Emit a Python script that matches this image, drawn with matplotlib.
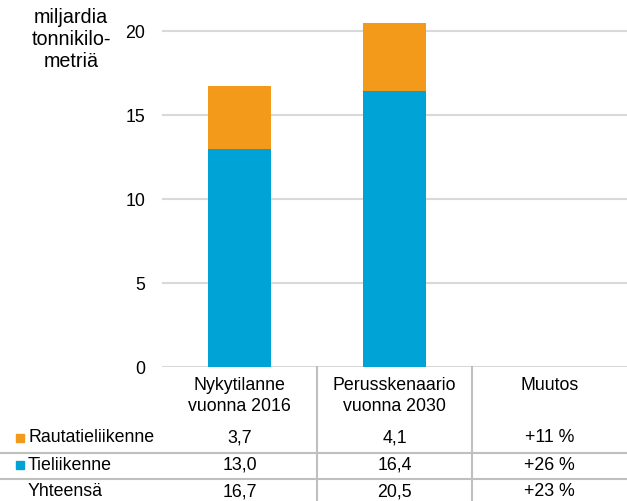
import matplotlib
matplotlib.use("Agg")
import matplotlib.pyplot as plt
from matplotlib.transforms import blended_transform_factory
from matplotlib.lines import Line2D

# Data
categories = ["Nykytilanne\nvuonna 2016", "Perusskenaario\nvuonna 2030", "Muutos"]
road = [13.0, 16.4]        # Tieliikenne
rail = [3.7, 4.1]          # Rautatieliikenne
change_rail = "+11 %"
change_road = "+26 %"
change_total = "+23 %"
yticks = [0, 5, 10, 15, 20]

orange = "#F39A1A"
blue = "#00A3D6"
grid_col = "#D9D9D9"
line_col = "#BFBFBF"
fs = 12.8

plt.rcParams['font.family'] = ['Liberation Sans', 'DejaVu Sans']
W, H = 627, 501
fig = plt.figure(figsize=(W / 100, H / 100), dpi=100)

# axes: x from px 162 to 627, y 0 at px 367, 16.8 px per unit
ymax = 21.0
top_px = 367 - ymax * 16.8
ax = fig.add_axes([162 / W, 1 - 367 / H, 1 - 162 / W, (367 - top_px) / H])

x = list(range(len(categories)))
ax.bar(x[:2], road, width=0.41, color=blue, zorder=3)
ax.bar(x[:2], rail, width=0.41, bottom=road, color=orange, zorder=3)

ax.set_xlim(-0.5, 2.5)
ax.set_ylim(0, ymax)
ax.set_yticks(yticks)
ax.set_yticklabels([str(t) for t in yticks], fontsize=fs)
ax.set_xticks([])
ax.tick_params(axis='y', length=0, pad=12)
for s in ax.spines.values():
    s.set_visible(False)
ax.yaxis.grid(True, color=grid_col, linewidth=1.5, zorder=0)
ax.set_axisbelow(True)

def fy(px):
    return 1 - px / H

# unit label
fig.text(71 / W, fy(8), "miljardia\ntonnikilo-\nmetriä", ha='center', va='top',
         fontsize=14.2, linespacing=1.2)

# table below the chart
tcol = blended_transform_factory(ax.transData, fig.transFigure)

# vertical separators
for xb in [0.5, 1.5]:
    ax.add_line(Line2D([xb, xb], [fy(367), fy(501)], transform=tcol,
                       color=line_col, linewidth=1.5, clip_on=False))
# horizontal row separators
for yp in [452.5, 479]:
    fig.add_artist(Line2D([0, 1], [fy(yp), fy(yp)], transform=fig.transFigure,
                          color=line_col, linewidth=1.5))

# header
for i, c in enumerate(categories):
    ax.text(i, fy(377), c, transform=tcol, ha='center', va='top',
            fontsize=fs, linespacing=1.3)

def fmt(v):
    return f"{v:.1f}".replace(".", ",")

totals = [r + t for r, t in zip(road, rail)]
rows = [
    ("Rautatieliikenne", orange, [fmt(v) for v in rail] + [change_rail], 438),
    ("Tieliikenne", blue, [fmt(v) for v in road] + [change_road], 465),
    ("Yhteensä", None, [fmt(v) for v in totals] + [change_total], 492),
]
for label, col, vals, yp in rows:
    if col is not None:
        fig.patches.append(plt.Rectangle((16 / W, fy(yp + 4)), 8 / W, 8 / H,
                                         transform=fig.transFigure, color=col,
                                         figure=fig))
    fig.text(28 / W, fy(yp), label, ha='left', va='center', fontsize=fs)
    for i, v in enumerate(vals):
        ax.text(i, fy(yp), v, transform=tcol, ha='center', va='center', fontsize=fs)

fig.savefig("out.png", dpi=100)
